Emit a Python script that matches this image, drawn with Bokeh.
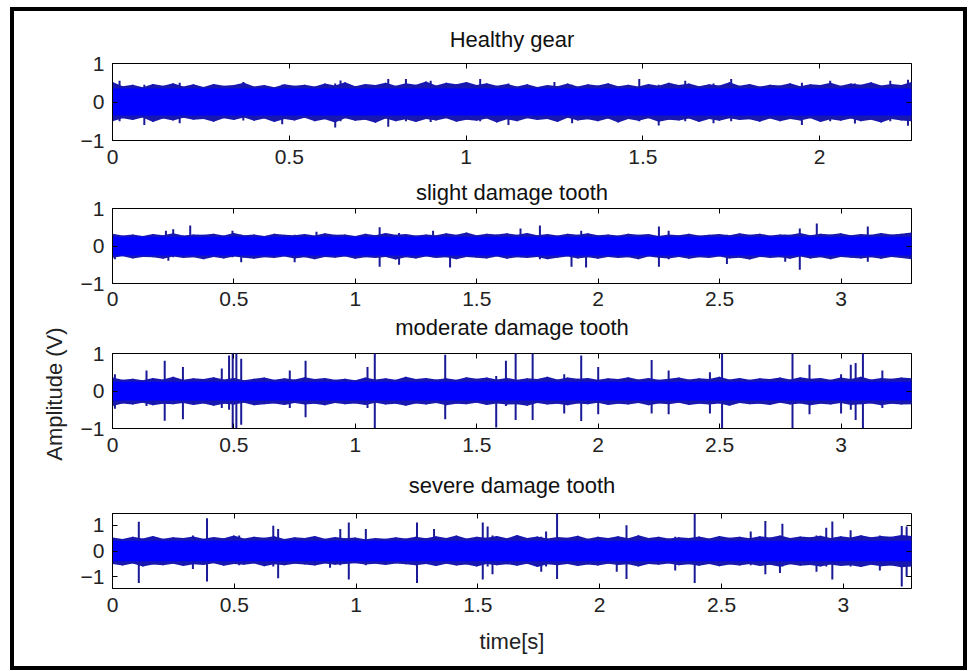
import numpy as np
from bokeh.plotting import figure
from bokeh.layouts import column
from bokeh.models import LinearAxis, FixedTicker, Range1d, ColumnDataSource
from bokeh.embed import file_html
from bokeh.resources import INLINE

# ---------------- data ----------------
titles = ["Healthy gear", "slight damage tooth", "moderate damage tooth", "severe damage tooth"]
x_max = [2.26, 3.29, 3.29, 3.28]
y_lim = [(-1.0, 1.0), (-1.0, 1.0), (-1.0, 1.0), (-1.45, 1.45)]
x_ticks = [0, 0.5, 1, 1.5, 2, 2.5, 3]
x_tick_labels = ["0", "0.5", "1", "1.5", "2", "2.5", "3"]
y_ticks = [-1, 0, 1]

# dense core of each signal (amplitude of the solid band)
core_level = [0.35, 0.25, 0.25, 0.40]

# outer edge of the noise band, read at evenly spaced times across each record
healthy_upper = [0.52,0.41,0.45,0.38,0.47,0.42,0.49,0.40,0.46,0.39,
                 0.47,0.42,0.44,0.50,0.40,0.44,0.38,0.46,0.42,0.45,
                 0.40,0.48,0.43,0.51,0.41,0.47,0.44,0.50,0.42,0.49,
                 0.45,0.53,0.43,0.50,0.46,0.52,0.44,0.49,0.42,0.47,
                 0.40,0.46,0.39,0.44,0.41,0.48,0.40,0.46,0.43,0.49,
                 0.41,0.45,0.40,0.47,0.42,0.50,0.44,0.48,0.41,0.46,
                 0.43,0.51,0.42,0.47,0.40,0.45,0.43,0.49,0.41,0.46,
                 0.44,0.50,0.42,0.48,0.45,0.51,0.43,0.47,0.44,0.52]
healthy_lower = [-0.50,-0.42,-0.47,-0.40,-0.52,-0.43,-0.48,-0.41,-0.46,-0.44,
                 -0.51,-0.42,-0.47,-0.40,-0.49,-0.43,-0.52,-0.44,-0.48,-0.41,
                 -0.50,-0.45,-0.53,-0.42,-0.49,-0.46,-0.54,-0.43,-0.50,-0.45,
                 -0.52,-0.44,-0.48,-0.42,-0.51,-0.46,-0.49,-0.43,-0.53,-0.45,
                 -0.50,-0.42,-0.47,-0.44,-0.52,-0.41,-0.48,-0.45,-0.50,-0.43,
                 -0.53,-0.44,-0.49,-0.42,-0.51,-0.46,-0.48,-0.43,-0.52,-0.44,
                 -0.49,-0.42,-0.47,-0.45,-0.51,-0.43,-0.50,-0.44,-0.48,-0.42,
                 -0.52,-0.45,-0.49,-0.43,-0.50,-0.46,-0.53,-0.44,-0.48,-0.50]
slight_upper = [0.33,0.28,0.31,0.27,0.32,0.29,0.34,0.28,0.31,0.30,
                0.33,0.28,0.35,0.29,0.31,0.27,0.33,0.30,0.29,0.32,
                0.28,0.34,0.30,0.31,0.27,0.33,0.29,0.35,0.30,0.32,
                0.28,0.31,0.29,0.34,0.30,0.36,0.29,0.33,0.31,0.34,
                0.30,0.35,0.29,0.32,0.28,0.33,0.30,0.34,0.29,0.31,
                0.28,0.33,0.30,0.32,0.27,0.31,0.29,0.33,0.28,0.30,
                0.32,0.29,0.34,0.30,0.33,0.28,0.31,0.30,0.35,0.29,
                0.33,0.31,0.34,0.29,0.32,0.30,0.35,0.31,0.33,0.36]
slight_lower = [-0.31,-0.27,-0.33,-0.29,-0.30,-0.34,-0.28,-0.32,-0.30,-0.35,
                -0.29,-0.33,-0.28,-0.31,-0.34,-0.30,-0.32,-0.28,-0.33,-0.30,
                -0.35,-0.29,-0.31,-0.28,-0.34,-0.30,-0.32,-0.29,-0.36,-0.30,
                -0.33,-0.28,-0.32,-0.30,-0.35,-0.29,-0.31,-0.33,-0.28,-0.34,
                -0.30,-0.32,-0.29,-0.35,-0.31,-0.28,-0.33,-0.30,-0.34,-0.29,
                -0.32,-0.30,-0.35,-0.28,-0.31,-0.33,-0.29,-0.34,-0.30,-0.32,
                -0.28,-0.33,-0.31,-0.36,-0.29,-0.32,-0.30,-0.34,-0.28,-0.33,
                -0.30,-0.35,-0.29,-0.31,-0.33,-0.30,-0.34,-0.29,-0.32,-0.35]
moderate_upper = [0.36,0.30,0.33,0.29,0.35,0.31,0.38,0.30,0.34,0.32,
                  0.37,0.31,0.35,0.29,0.33,0.36,0.30,0.34,0.31,0.37,
                  0.32,0.35,0.30,0.33,0.29,0.36,0.31,0.34,0.30,0.38,
                  0.32,0.35,0.31,0.34,0.30,0.37,0.33,0.36,0.31,0.35,
                  0.30,0.34,0.32,0.38,0.31,0.36,0.33,0.35,0.30,0.34,
                  0.32,0.37,0.31,0.35,0.30,0.33,0.36,0.31,0.34,0.32,
                  0.38,0.31,0.35,0.30,0.34,0.32,0.36,0.31,0.37,0.33,
                  0.35,0.30,0.36,0.32,0.38,0.31,0.35,0.33,0.36,0.34]
moderate_lower = [-0.40,-0.33,-0.36,-0.31,-0.38,-0.34,-0.35,-0.32,-0.37,-0.33,
                  -0.39,-0.34,-0.36,-0.31,-0.38,-0.35,-0.33,-0.37,-0.32,-0.36,
                  -0.34,-0.38,-0.32,-0.35,-0.33,-0.37,-0.31,-0.36,-0.34,-0.39,
                  -0.33,-0.36,-0.32,-0.38,-0.34,-0.35,-0.31,-0.37,-0.33,-0.36,
                  -0.35,-0.39,-0.32,-0.36,-0.34,-0.38,-0.33,-0.35,-0.31,-0.37,
                  -0.34,-0.36,-0.32,-0.38,-0.33,-0.35,-0.31,-0.37,-0.34,-0.36,
                  -0.33,-0.39,-0.32,-0.35,-0.34,-0.37,-0.31,-0.36,-0.33,-0.38,
                  -0.34,-0.36,-0.32,-0.37,-0.35,-0.33,-0.38,-0.34,-0.36,-0.35]
severe_upper = [0.52,0.46,0.55,0.48,0.58,0.47,0.53,0.50,0.56,0.47,
                0.54,0.49,0.60,0.48,0.55,0.51,0.57,0.46,0.53,0.50,
                0.58,0.47,0.54,0.49,0.52,0.45,0.50,0.47,0.53,0.48,
                0.55,0.49,0.57,0.50,0.60,0.48,0.55,0.51,0.58,0.49,
                0.62,0.50,0.56,0.48,0.54,0.51,0.59,0.47,0.55,0.50,
                0.57,0.49,0.61,0.50,0.55,0.48,0.53,0.50,0.56,0.48,
                0.58,0.51,0.55,0.49,0.57,0.52,0.60,0.50,0.56,0.53,
                0.59,0.50,0.57,0.52,0.61,0.53,0.58,0.55,0.62,0.58]
severe_lower = [-0.50,-0.56,-0.48,-0.60,-0.52,-0.55,-0.49,-0.58,-0.51,-0.54,
                -0.47,-0.57,-0.50,-0.53,-0.48,-0.59,-0.51,-0.55,-0.49,-0.52,
                -0.56,-0.48,-0.53,-0.50,-0.47,-0.52,-0.49,-0.54,-0.48,-0.51,
                -0.55,-0.50,-0.58,-0.49,-0.56,-0.52,-0.60,-0.50,-0.55,-0.51,
                -0.57,-0.49,-0.62,-0.51,-0.55,-0.50,-0.58,-0.52,-0.56,-0.49,
                -0.54,-0.51,-0.60,-0.50,-0.53,-0.48,-0.55,-0.51,-0.57,-0.50,
                -0.59,-0.52,-0.56,-0.50,-0.58,-0.53,-0.61,-0.51,-0.57,-0.54,
                -0.60,-0.52,-0.58,-0.55,-0.62,-0.53,-0.59,-0.56,-0.63,-0.60]

# impulsive spikes: time [s], positive peak, negative peak
healthy_spike_t  = [0.02, 0.09, 0.19, 0.37, 0.48, 0.63, 0.645, 0.78, 0.83, 0.90, 1.04, 1.12,
                    1.25, 1.30, 1.49, 1.545, 1.62, 1.70, 1.75, 1.95, 2.03, 2.10, 2.20, 2.25]
healthy_spike_hi = [0.55, 0.45, 0.50, 0.52, 0.45, 0.48, 0.56, 0.60, 0.60, 0.55, 0.60, 0.48,
                    0.52, 0.45, 0.60, 0.45, 0.55, 0.48, 0.60, 0.50, 0.55, 0.48, 0.55, 0.58]
healthy_spike_lo = [-0.50, -0.60, -0.55, -0.48, -0.58, -0.66, -0.50, -0.64, -0.50, -0.52, -0.50, -0.60,
                    -0.48, -0.55, -0.50, -0.61, -0.50, -0.55, -0.50, -0.60, -0.50, -0.56, -0.50, -0.62]

slight_spike_t  = [0.01, 0.22, 0.23, 0.25, 0.32, 0.494, 0.53, 0.75, 0.84, 1.10, 1.18, 1.32, 1.39,
                   1.68, 1.76, 1.89, 1.93, 1.95, 2.25, 2.29, 2.53, 2.77, 2.83, 2.90, 3.11, 3.27]
slight_spike_hi = [0.30, 0.41, 0.30, 0.45, 0.55, 0.41, 0.30, 0.30, 0.38, 0.50, 0.35, 0.41, 0.30,
                   0.47, 0.55, 0.30, 0.41, 0.30, 0.52, 0.41, 0.30, 0.30, 0.47, 0.60, 0.52, 0.35]
slight_spike_lo = [-0.35, -0.30, -0.39, -0.30, -0.30, -0.30, -0.43, -0.43, -0.30, -0.55, -0.50, -0.30, -0.57,
                   -0.30, -0.35, -0.55, -0.30, -0.57, -0.55, -0.35, -0.48, -0.42, -0.63, -0.30, -0.42, -0.30]

moderate_spike_t  = [0.01, 0.14, 0.215, 0.29, 0.45, 0.48, 0.495, 0.51, 0.53, 0.73, 0.795, 1.05, 1.08,
                     1.37, 1.58, 1.62, 1.66, 1.73, 1.86, 1.93, 2.00, 2.22, 2.29, 2.46, 2.51, 2.80,
                     2.87, 3.00, 3.04, 3.06, 3.09, 3.17]
moderate_spike_hi = [0.45, 0.55, 0.81, 0.64, 0.60, 0.95, 1.05, 1.05, 0.86, 0.55, 0.81, 0.64, 1.05,
                     0.97, 0.40, 0.81, 1.05, 1.05, 0.45, 0.95, 0.64, 0.83, 0.55, 0.50, 1.05, 1.05,
                     0.70, 0.45, 0.70, 0.75, 1.05, 0.55]
moderate_spike_lo = [-0.47, -0.40, -0.79, -0.75, -0.45, -0.50, -1.05, -1.05, -0.90, -0.45, -0.70, -0.45, -1.05,
                     -0.75, -0.97, -0.40, -0.77, -0.77, -0.60, -0.80, -0.62, -0.60, -0.62, -0.60, -1.05, -1.05,
                     -0.62, -0.60, -0.50, -0.77, -1.05, -0.45]

severe_spike_t  = [0.108, 0.33, 0.388, 0.52, 0.66, 0.68, 0.893, 0.935, 0.97, 1.04, 1.25, 1.32, 1.52,
                   1.54, 1.56, 1.76, 1.78, 1.825, 2.07, 2.11, 2.31, 2.39, 2.62, 2.68, 2.74, 2.75,
                   2.89, 2.93, 2.955, 3.03, 3.15, 3.24, 3.26]
severe_spike_hi = [1.13, 0.60, 1.27, 0.60, 0.98, 0.85, 0.50, 0.85, 1.10, 0.85, 1.10, 0.85, 1.10,
                   0.95, 0.60, 0.55, 0.75, 1.50, 0.55, 1.00, 0.55, 1.50, 0.75, 1.16, 0.55, 1.05,
                   0.60, 0.90, 1.14, 0.80, 0.60, 0.97, 0.95]
severe_spike_lo = [-1.24, -0.70, -1.18, -0.55, -0.60, -1.05, -0.65, -0.55, -1.10, -0.55, -1.24, -0.55, -1.10,
                   -0.60, -0.90, -0.80, -0.60, -1.08, -0.80, -1.08, -0.75, -1.24, -0.55, -0.90, -0.85, -0.60,
                   -0.80, -0.60, -1.10, -0.60, -0.75, -1.37, -1.00]

uppers = [healthy_upper, slight_upper, moderate_upper, severe_upper]
lowers = [healthy_lower, slight_lower, moderate_lower, severe_lower]
spikes = [(healthy_spike_t, healthy_spike_hi, healthy_spike_lo),
          (slight_spike_t, slight_spike_hi, slight_spike_lo),
          (moderate_spike_t, moderate_spike_hi, moderate_spike_lo),
          (severe_spike_t, severe_spike_hi, severe_spike_lo)]

# ---------------- layout / style ----------------
FONT = "Liberation Sans"
W = 949
BORDER_L, BORDER_R = 98, 52
heights = [161, 138, 158, 198]
tops = [52, 36, 43, 45]
bottoms = [32, 27, 40, 78]
title_gap = [12, 4, 14, 16]
CORE = "#0000ff"
EDGE = "#1818b0"
SPIKE = "#1a1a96"

figs = []
for i in range(4):
    y0, y1 = y_lim[i]
    p = figure(width=W, height=heights[i], x_range=Range1d(0, x_max[i]),
               y_range=Range1d(y0, y1), output_backend="svg", toolbar_location=None,
               min_border_left=BORDER_L, min_border_right=BORDER_R,
               min_border_top=tops[i], min_border_bottom=bottoms[i])
    p.xgrid.visible = False
    p.ygrid.visible = False
    p.outline_line_color = "black"
    p.outline_line_width = 1
    p.outline_line_alpha = 1

    n = len(uppers[i])
    t = np.linspace(0, x_max[i], n)
    src = ColumnDataSource(dict(t=t, up=uppers[i], lo=lowers[i]))
    st, sh, sl = spikes[i]
    ssrc = ColumnDataSource(dict(t=st, hi=sh, lo=sl))
    p.segment(x0="t", y0="lo", x1="t", y1="hi", source=ssrc, line_color=SPIKE, line_width=2)
    p.varea(x="t", y1="lo", y2="up", source=src, fill_color=EDGE)
    p.segment(x0="t", y0="lo", x1="t", y1="up", source=src, line_color=EDGE, line_width=1.5)
    c = core_level[i]
    p.varea(x=[0, x_max[i]], y1=[-c, -c], y2=[c, c], fill_color=CORE)

    ticks = [v for v in x_ticks if v <= x_max[i]]
    overrides = {v: lab for v, lab in zip(x_ticks, x_tick_labels)}
    xax = p.below[0]
    yax = p.left[0]
    for ax in (xax, yax):
        ax.major_tick_in = 5
        ax.major_tick_out = 0
        ax.minor_tick_line_color = None
        ax.axis_line_color = "black"
        ax.major_tick_line_color = "black"
        ax.major_label_text_font = FONT
        ax.major_label_text_font_size = "21px"
        ax.major_label_text_color = "#222222"
    xax.ticker = FixedTicker(ticks=ticks)
    xax.major_label_overrides = overrides
    xax.major_label_standoff = 9 if i != 1 else 8
    yax.ticker = FixedTicker(ticks=y_ticks)
    yax.major_label_standoff = 8

    # mirrored ticks on top (carrying the subplot title) and on the right
    top_ax = LinearAxis(ticker=FixedTicker(ticks=ticks), major_label_overrides={v: "" for v in ticks},
                        major_label_text_font_size="1px",
                        major_tick_in=5, major_tick_out=0, minor_tick_line_color=None,
                        axis_line_color=None, major_label_standoff=0,
                        axis_label=titles[i], axis_label_standoff=title_gap[i],
                        axis_label_text_font=FONT, axis_label_text_font_size="22px",
                        axis_label_text_font_style="normal", axis_label_text_color="#111111")
    right_ax = LinearAxis(ticker=FixedTicker(ticks=y_ticks), major_label_overrides={v: "" for v in y_ticks},
                          major_label_text_font_size="1px",
                          major_tick_in=5, major_tick_out=0, minor_tick_line_color=None,
                          axis_line_color=None, major_label_standoff=0)
    p.add_layout(top_ax, "above")
    p.add_layout(right_ax, "right")

    if i == 2:
        yax.axis_label = "Amplitude  (V)"
        yax.axis_label_text_font = FONT
        yax.axis_label_text_font_size = "22px"
        yax.axis_label_text_font_style = "normal"
        yax.axis_label_text_color = "#222222"
        yax.axis_label_standoff = 11
    if i == 3:
        xax.axis_label = "time[s]"
        xax.axis_label_text_font = FONT
        xax.axis_label_text_font_size = "22px"
        xax.axis_label_text_font_style = "normal"
        xax.axis_label_text_color = "#222222"
        xax.axis_label_standoff = 14
    figs.append(p)

layout = column(*figs, spacing=0,
                styles={"border": "4px solid black", "background-color": "white",
                        "margin-top": "7px", "margin-left": "10px"})

open("out.html", "w").write(file_html(layout, INLINE))
